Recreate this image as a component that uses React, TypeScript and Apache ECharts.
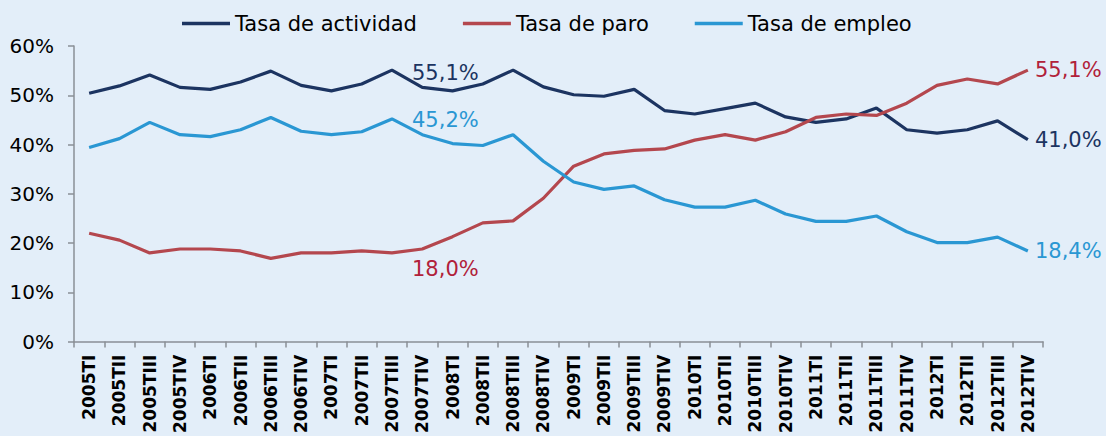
import React, { useEffect, useRef } from "react";
import * as echarts from "echarts";

const categories = [
  "2005TI", "2005TII", "2005TIII", "2005TIV",
  "2006TI", "2006TII", "2006TIII", "2006TIV",
  "2007TI", "2007TII", "2007TIII", "2007TIV",
  "2008TI", "2008TII", "2008TIII", "2008TIV",
  "2009TI", "2009TII", "2009TIII", "2009TIV",
  "2010TI", "2010TII", "2010TIII", "2010TIV",
  "2011TI", "2011TII", "2011TIII", "2011TIV",
  "2012TI", "2012TII", "2012TIII", "2012TIV",
];

const tasaActividad = [
  50.4, 51.9, 54.1, 51.6, 51.2, 52.7, 54.9, 52.0,
  50.9, 52.3, 55.1, 51.6, 50.9, 52.3, 55.1, 51.7,
  50.1, 49.8, 51.2, 46.9, 46.2, 47.3, 48.4, 45.6,
  44.5, 45.2, 47.4, 43.0, 42.3, 43.0, 44.8, 41.0,
];

const tasaParo = [
  22.0, 20.6, 18.0, 18.8, 18.8, 18.4, 16.9, 18.0,
  18.0, 18.4, 18.0, 18.8, 21.3, 24.1, 24.5, 29.1,
  35.6, 38.1, 38.8, 39.1, 40.9, 42.0, 40.9, 42.6,
  45.5, 46.2, 45.9, 48.4, 52.0, 53.3, 52.3, 55.1,
];

const tasaEmpleo = [
  39.4, 41.2, 44.5, 42.0, 41.6, 43.0, 45.5, 42.7,
  42.0, 42.6, 45.2, 42.0, 40.2, 39.8, 42.0, 36.6,
  32.4, 30.9, 31.6, 28.8, 27.3, 27.3, 28.7, 25.9,
  24.4, 24.4, 25.5, 22.3, 20.1, 20.1, 21.2, 18.4,
];

const yTicks = [0, 10, 20, 30, 40, 50, 60];
const labelIdxMid = 10;
const labelIdxEnd = 31;

const fmt = (v: number) => v.toFixed(1).replace(".", ",") + "%";

const FONT = "DejaVu Sans";

export default function App() {
  const ref = useRef<HTMLDivElement>(null);

  useEffect(() => {
    if (!ref.current) return;
    const chart = echarts.init(ref.current, null, { renderer: "svg" });

    const build = (values: number[], labelColor: string, midLabel: any) =>
      values.map((v, i) => {
        if (i === labelIdxMid) {
          return {
            value: v,
            label: {
              show: true,
              formatter: fmt(v),
              color: labelColor,
              fontSize: 21,
              fontFamily: FONT,
              ...midLabel,
            },
          };
        }
        if (i === labelIdxEnd) {
          return {
            value: v,
            label: {
              show: true,
              formatter: fmt(v),
              color: labelColor,
              fontSize: 21,
              fontFamily: FONT,
              position: "right",
              distance: 7,
            },
          };
        }
        return v;
      });

    const common = {
      type: "line",
      symbol: "circle",
      symbolSize: 0.1,
      showSymbol: true,
      showAllSymbol: true,
      label: { show: false },
    };

    const option: any = {
      animation: false,
      backgroundColor: "#e3eef9",
      legend: {
        top: 8,
        left: 177,
        icon: "rect",
        itemWidth: 48,
        itemHeight: 3.5,
        itemGap: 46,
        textStyle: { fontSize: 21, color: "#000", fontFamily: FONT },
        data: ["Tasa de actividad", "Tasa de paro", "Tasa de empleo"],
      },
      grid: { left: 74, right: 63, top: 46, bottom: 93, containLabel: false },
      xAxis: {
        type: "category",
        data: categories,
        boundaryGap: true,
        axisLine: { show: true, lineStyle: { color: "#8a8f96", width: 1.5 } },
        axisTick: {
          show: true,
          interval: 0,
          length: 6,
          lineStyle: { color: "#8a8f96", width: 1.5 },
        },
        axisLabel: {
          interval: 0,
          rotate: 90,
          margin: 13,
          fontSize: 17,
          fontWeight: "bold",
          color: "#000",
          fontFamily: FONT,
        },
        splitLine: { show: false },
      },
      yAxis: {
        type: "value",
        min: yTicks[0],
        max: yTicks[yTicks.length - 1],
        interval: 10,
        axisLine: { show: true, lineStyle: { color: "#8a8f96", width: 1.5 } },
        axisTick: {
          show: true,
          length: 6,
          lineStyle: { color: "#8a8f96", width: 1.5 },
        },
        axisLabel: {
          formatter: "{value}%",
          fontSize: 20,
          color: "#000",
          margin: 20,
          fontFamily: FONT,
        },
        splitLine: { show: false },
      },
      series: [
        {
          ...common,
          name: "Tasa de actividad",
          color: "#1c3461",
          lineStyle: { width: 3.2, color: "#1c3461" },
          data: build(tasaActividad, "#1c3461", {
            position: "right",
            distance: 20,
            offset: [0, 3],
          }),
        },
        {
          ...common,
          name: "Tasa de paro",
          color: "#b4474e",
          lineStyle: { width: 3.2, color: "#b4474e" },
          data: build(tasaParo, "#b1213a", {
            position: "right",
            distance: 20,
            offset: [0, 16],
          }),
        },
        {
          ...common,
          name: "Tasa de empleo",
          color: "#2a97d3",
          lineStyle: { width: 3.2, color: "#2a97d3" },
          data: build(tasaEmpleo, "#2a97d3", {
            position: "right",
            distance: 20,
            offset: [0, 1],
          }),
        },
      ],
    };

    chart.setOption(option);
    return () => chart.dispose();
  }, []);

  return (
    <div
      ref={ref}
      style={{
        position: "fixed",
        left: 0,
        top: 0,
        width: 1106,
        height: 436,
        background: "#e3eef9",
      }}
    />
  );
}
